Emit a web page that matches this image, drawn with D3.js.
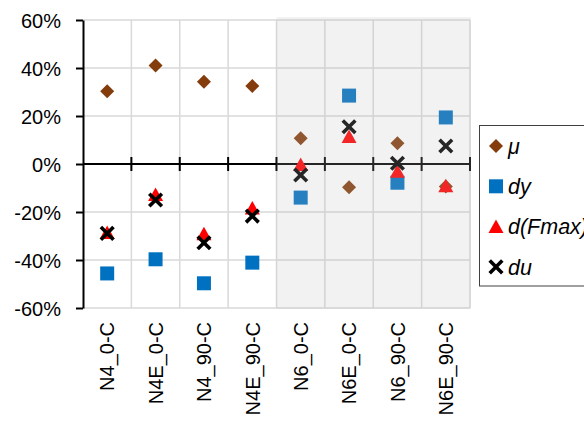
<!DOCTYPE html>
<html>
<head>
<meta charset="utf-8">
<script src="https://cdn.jsdelivr.net/npm/d3@7"></script>
<style>
  html, body { margin: 0; padding: 0; background: #fff; }
  svg { display: block; }
</style>
</head>
<body>
<svg id="chart" width="584" height="422"></svg>
<script>
// Specimen groups along the category axis
const categories = ["N4_0-C", "N4E_0-C", "N4_90-C", "N4E_90-C", "N6_0-C", "N6E_0-C", "N6_90-C", "N6E_90-C"];
// Relative change of each quantity per group
const mu    = [0.303, 0.410, 0.343, 0.325, 0.107, -0.097, 0.086, -0.094];
const dy    = [-0.456, -0.397, -0.497, -0.411, -0.140, 0.285, -0.078, 0.194];
const dFmax = [-0.285, -0.127, -0.291, -0.183, -0.002, 0.115, -0.030, -0.091];
const du    = [-0.289, -0.150, -0.328, -0.217, -0.046, 0.155, 0.003, 0.075];
const seriesNames = ["μ", "dy", "d(Fmax)", "du"];
const yTicks = [-0.6, -0.4, -0.2, 0, 0.2, 0.4, 0.6];
// Groups from this index on sit in the shaded band
const shadedFrom = 4;

const svg = d3.select("#chart");
const plotLeft = 83, plotRight = 470, plotTop = 20, plotBottom = 308;

const x = d3.scaleBand().domain(categories).range([plotLeft, plotRight]).padding(0);
const y = d3.scaleLinear().domain([-0.6, 0.6]).range([plotBottom, plotTop]);
const boundaries = categories.map(c => x(c)).concat([x.range()[1]]);
const cx = c => x(c) + x.bandwidth() / 2;

const grid = "#d9d9d9";
const font = "'Liberation Sans', Arial, sans-serif";

// Gridlines
const g = svg.append("g");
g.selectAll("line.h").data(yTicks).join("line")
  .attr("x1", plotLeft).attr("x2", plotRight)
  .attr("y1", d => y(d)).attr("y2", d => y(d))
  .attr("stroke", grid).attr("stroke-width", 1.5);
g.selectAll("line.v").data(boundaries.slice(1)).join("line")
  .attr("x1", d => d).attr("x2", d => d)
  .attr("y1", plotTop).attr("y2", plotBottom)
  .attr("stroke", grid).attr("stroke-width", 1.5);

// Y axis
const yAxis = svg.append("g")
  .attr("transform", `translate(${plotLeft},0)`)
  .call(d3.axisLeft(y).tickValues(yTicks).tickSize(7).tickSizeOuter(0)
        .tickFormat(d => Math.round(d * 100) + "%"));
yAxis.select(".domain").attr("stroke", "#000").attr("stroke-width", 2);
yAxis.selectAll(".tick line").attr("stroke", "#000").attr("stroke-width", 2);
yAxis.selectAll(".tick text")
  .attr("x", -22).attr("y", 0.5).attr("dy", "0.36em")
  .attr("text-anchor", "end")
  .attr("fill", "#000")
  .style("font-family", font)
  .style("font-size", "20px");

// X axis at zero, with cross ticks at group boundaries
const xAxis = svg.append("g");
xAxis.append("line")
  .attr("x1", plotLeft).attr("x2", plotRight)
  .attr("y1", y(0)).attr("y2", y(0))
  .attr("stroke", "#000").attr("stroke-width", 2);
xAxis.selectAll("line.tk").data(boundaries.slice(1)).join("line")
  .attr("x1", d => d).attr("x2", d => d)
  .attr("y1", y(0) - 7).attr("y2", y(0) + 7)
  .attr("stroke", "#000").attr("stroke-width", 2);

// Category labels
svg.append("g").selectAll("text").data(categories).join("text")
  .attr("transform", d => `translate(${cx(d)},322) rotate(-90)`)
  .attr("text-anchor", "end")
  .attr("dy", "0.36em")
  .style("font-family", font)
  .style("font-size", "20px")
  .attr("fill", "#000")
  .text(d => d);

// Marker shapes
const diamond = "M0,-7L7,0L0,7L-7,0Z";
const square = "M-7,-7H7V7H-7Z";
const triangle = "M0,-7L7.5,6.5H-7.5Z";
const cross = "M-6.3,-6.3L6.3,6.3M6.3,-6.3L-6.3,6.3";
const styles = [
  { path: diamond, fill: "#843c0c", stroke: "none" },
  { path: square, fill: "#0070c0", stroke: "none" },
  { path: triangle, fill: "#ff0000", stroke: "none" },
  { path: cross, fill: "none", stroke: "#000" }
];
const seriesData = [mu, dy, dFmax, du];

const marks = svg.append("g");
seriesData.forEach((vals, i) => {
  const s = styles[i];
  marks.append("g").selectAll("path").data(vals).join("path")
    .attr("transform", (v, j) => `translate(${cx(categories[j])},${y(v)})`)
    .attr("d", s.path)
    .attr("fill", s.fill)
    .attr("stroke", s.stroke)
    .attr("stroke-width", s.stroke === "none" ? null : 3.6);
});

// Translucent band over the N6 groups
svg.append("rect")
  .attr("x", boundaries[shadedFrom])
  .attr("y", y(0.6) - 3)
  .attr("width", boundaries[categories.length] - boundaries[shadedFrom] + 1)
  .attr("height", y(-0.6) - y(0.6) + 4)
  .attr("fill", "rgb(190,190,190)")
  .attr("fill-opacity", 0.2);

// Legend
const legend = svg.append("g");
legend.append("rect")
  .attr("x", 479.5).attr("y", 125.5)
  .attr("width", 140).attr("height", 160.5)
  .attr("fill", "#fff").attr("stroke", "#404040").attr("stroke-width", 1);
seriesNames.forEach((name, i) => {
  const ry = 146 + i * 40.3;
  const s = styles[i];
  legend.append("path")
    .attr("transform", `translate(496,${ry})`)
    .attr("d", s.path)
    .attr("fill", s.fill)
    .attr("stroke", s.stroke)
    .attr("stroke-width", s.stroke === "none" ? null : 3.6);
  legend.append("text")
    .attr("x", 508).attr("y", ry)
    .attr("dy", "0.36em")
    .style("font-family", font)
    .style("font-size", "21.5px")
    .style("font-style", "italic")
    .attr("fill", "#000")
    .text(name);
});
</script>
</body>
</html>
